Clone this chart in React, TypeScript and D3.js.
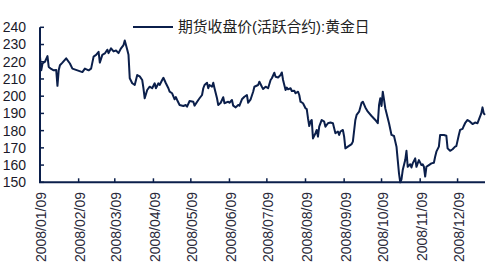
import React from "react";
import * as d3 from "d3";

const seriesName = "期货收盘价(活跃合约):黄金日";
const tickDates = ["2008-01-09","2008-02-09","2008-03-09","2008-04-09","2008-05-09","2008-06-09","2008-07-09","2008-08-09","2008-09-09","2008-10-09","2008-11-09","2008-12-09"];
const yTicks = [150,160,170,180,190,200,210,220,230,240];

const dates = [
"2008-01-09","2008-01-10","2008-01-11","2008-01-13","2008-01-15","2008-01-16","2008-01-18","2008-01-20","2008-01-22","2008-01-23","2008-01-24","2008-01-25","2008-01-27","2008-01-30",
"2008-02-02","2008-02-04","2008-02-08","2008-02-12","2008-02-14","2008-02-17","2008-02-19","2008-02-21","2008-02-23","2008-02-25","2008-02-26","2008-02-28",
"2008-03-01","2008-03-03","2008-03-04","2008-03-06","2008-03-08","2008-03-10","2008-03-12","2008-03-14","2008-03-16","2008-03-17","2008-03-19","2008-03-20","2008-03-21","2008-03-23","2008-03-25","2008-03-27","2008-03-29","2008-03-31",
"2008-04-01","2008-04-02","2008-04-04","2008-04-06","2008-04-08","2008-04-10","2008-04-11","2008-04-13","2008-04-14","2008-04-16","2008-04-17","2008-04-19","2008-04-21","2008-04-22","2008-04-24","2008-04-26","2008-04-27","2008-04-28","2008-04-30",
"2008-05-03","2008-05-05","2008-05-06","2008-05-08","2008-05-11","2008-05-12","2008-05-15","2008-05-16","2008-05-18","2008-05-19","2008-05-20","2008-05-22","2008-05-23","2008-05-24","2008-05-26","2008-05-27","2008-05-28","2008-05-30","2008-05-31",
"2008-06-02","2008-06-04","2008-06-05","2008-06-08","2008-06-09","2008-06-11","2008-06-12","2008-06-14","2008-06-16","2008-06-17","2008-06-19","2008-06-21","2008-06-23","2008-06-24","2008-06-26","2008-06-28","2008-06-29",
"2008-07-02","2008-07-03","2008-07-05","2008-07-06","2008-07-08","2008-07-10","2008-07-12","2008-07-13","2008-07-15","2008-07-16","2008-07-18","2008-07-20","2008-07-21","2008-07-22","2008-07-24","2008-07-25","2008-07-26","2008-07-28","2008-07-29","2008-07-31",
"2008-08-01","2008-08-03","2008-08-04","2008-08-05","2008-08-07","2008-08-09","2008-08-10","2008-08-11","2008-08-12","2008-08-13","2008-08-14","2008-08-15","2008-08-17","2008-08-18","2008-08-19","2008-08-20","2008-08-22","2008-08-24","2008-08-25","2008-08-27","2008-08-29","2008-08-31",
"2008-09-02","2008-09-04","2008-09-05","2008-09-06","2008-09-08","2008-09-09","2008-09-10","2008-09-12","2008-09-15","2008-09-16","2008-09-18","2008-09-19","2008-09-21","2008-09-23","2008-09-24","2008-09-26","2008-09-28",
"2008-10-01","2008-10-04","2008-10-06","2008-10-07","2008-10-08","2008-10-09","2008-10-10","2008-10-11","2008-10-12","2008-10-14","2008-10-15","2008-10-17","2008-10-19","2008-10-21","2008-10-22","2008-10-23","2008-10-24","2008-10-25","2008-10-26","2008-10-28","2008-10-29","2008-10-30",
"2008-11-01","2008-11-02","2008-11-03","2008-11-05","2008-11-06","2008-11-07","2008-11-08","2008-11-10","2008-11-11","2008-11-12","2008-11-13","2008-11-14","2008-11-16","2008-11-18","2008-11-20","2008-11-21","2008-11-22","2008-11-24","2008-11-25","2008-11-28","2008-11-30",
"2008-12-01","2008-12-03","2008-12-05","2008-12-07","2008-12-08","2008-12-10","2008-12-11","2008-12-13","2008-12-14","2008-12-15","2008-12-17","2008-12-19","2008-12-21","2008-12-23","2008-12-25","2008-12-26","2008-12-28","2008-12-29","2008-12-30","2008-12-31"
];

const prices = [
223,215,219,220,223.3,217,215.8,215,215.2,206,215,218,219.5,222,
219,216,215,214,216,215,216,223,224,225.8,219.5,224,
224.8,227,225,227.8,226,226.5,225,227.8,229.7,232.3,227,224,210.4,207.5,206.5,212.3,211.5,209.4,
204.6,198.8,203.6,205.5,204.6,207.5,204.6,207.5,206.5,209.4,210.7,207.5,204.6,202.6,201.7,198.2,199.5,197.8,194.9,
194.3,194.9,193.9,197.2,196.8,194.5,197.8,198.8,200.7,204.6,206.5,207.8,204.6,206.5,205.5,207.8,204.6,198.8,194.9,
196.2,199.4,195.9,196.8,196.2,197.8,194.5,193.5,194.9,194.5,198.2,199.7,200.7,196.2,198.2,202.6,205.5,
206.5,208.4,205.5,204.2,205.5,204.6,209.4,210.4,213.6,211.3,210.9,212.3,213.8,209.4,203.6,205,204,204.6,203,203.2,
201.7,202.6,200.7,196.8,195.9,193,192.5,187.2,182.7,185.2,186.2,175.5,178.5,180.4,176.5,182.3,186.2,185.2,182.3,184.3,184.7,184.3,
178.5,179.5,177.5,179.5,180.4,176.5,169.7,170.7,172.2,173.6,186.2,189.1,191,196.2,196.8,193.5,191,
188.5,186.2,184.3,194.9,198.8,194.3,202.6,198,193,187.2,184.3,177.5,176.9,170.7,162.9,155.2,150,151.7,157.1,162.9,168.3,159,
160.5,158.6,161,163.9,159,161,162.9,160,160.5,159,153.3,159,160,161,161.4,164.8,167.8,170.7,177.5,177.5,177,
169.7,168.3,169.2,170.7,171,177.5,180.4,181,182.7,184.3,186.2,185.2,183.8,184.7,184.3,186.2,190,193.5,190,189.1
];

const W = 495, H = 275;
const X0 = 40, X1 = 485, YTOP = 27.3, YBOT = 182.3;
const navy = "#0b1f4b";
const font = "Arial, 'Liberation Sans', 'Noto Sans CJK SC', sans-serif";

export default function App() {
  const parse = d3.timeParse("%Y-%m-%d");
  const data = dates.map((d, i) => ({ date: parse(d) as Date, v: prices[i] }));
  const x = d3.scaleTime().domain([parse("2008-01-09") as Date, parse("2008-12-31") as Date]).range([X0, X1]);
  const y = d3.scaleLinear().domain([150, 240]).range([YBOT, YTOP]);
  const line = d3.line<{ date: Date; v: number }>().x(d => x(d.date)).y(d => y(d.v));
  const fmt = d3.timeFormat("%Y/%m/%d");

  return (
    <svg width={W} height={H} style={{ position: "absolute", left: 0, top: 0, background: "#fff" }}>
      <path d={line(data) || ""} fill="none" stroke={navy} strokeWidth={2} strokeLinejoin="round" />
      <line x1={X0} x2={X0} y1={YTOP} y2={YBOT} stroke={navy} strokeWidth={2} />
      <line x1={X0 - 1} x2={X1} y1={YBOT} y2={YBOT} stroke={navy} strokeWidth={2} />
      {yTicks.map(t => (
        <g key={t}>
          <line x1={X0} x2={X0 + 4} y1={y(t)} y2={y(t)} stroke={navy} strokeWidth={1.5} />
          <text x={26} y={y(t)} dy="0.35em" textAnchor="end" fontFamily={font} fontSize={14} fill="#1a1a2a">{t}</text>
        </g>
      ))}
      {tickDates.map(s => {
        const d = parse(s) as Date;
        const xx = x(d);
        return (
          <g key={s}>
            <line x1={xx} x2={xx} y1={YBOT} y2={YBOT - 4} stroke={navy} strokeWidth={1.5} />
            <text transform={`translate(${xx + 1.5},${192}) rotate(-90)`} dy="0.35em" textAnchor="end" fontFamily={font} fontSize={14} fill="#2a2a3a">{fmt(d)}</text>
          </g>
        );
      })}
      <line x1={133} x2={173} y1={27} y2={27} stroke={navy} strokeWidth={2} />
      <text x={178} y={27} dy="0.35em" fontFamily={font} fontSize={14.8} fill="#222">{seriesName}</text>
    </svg>
  );
}
